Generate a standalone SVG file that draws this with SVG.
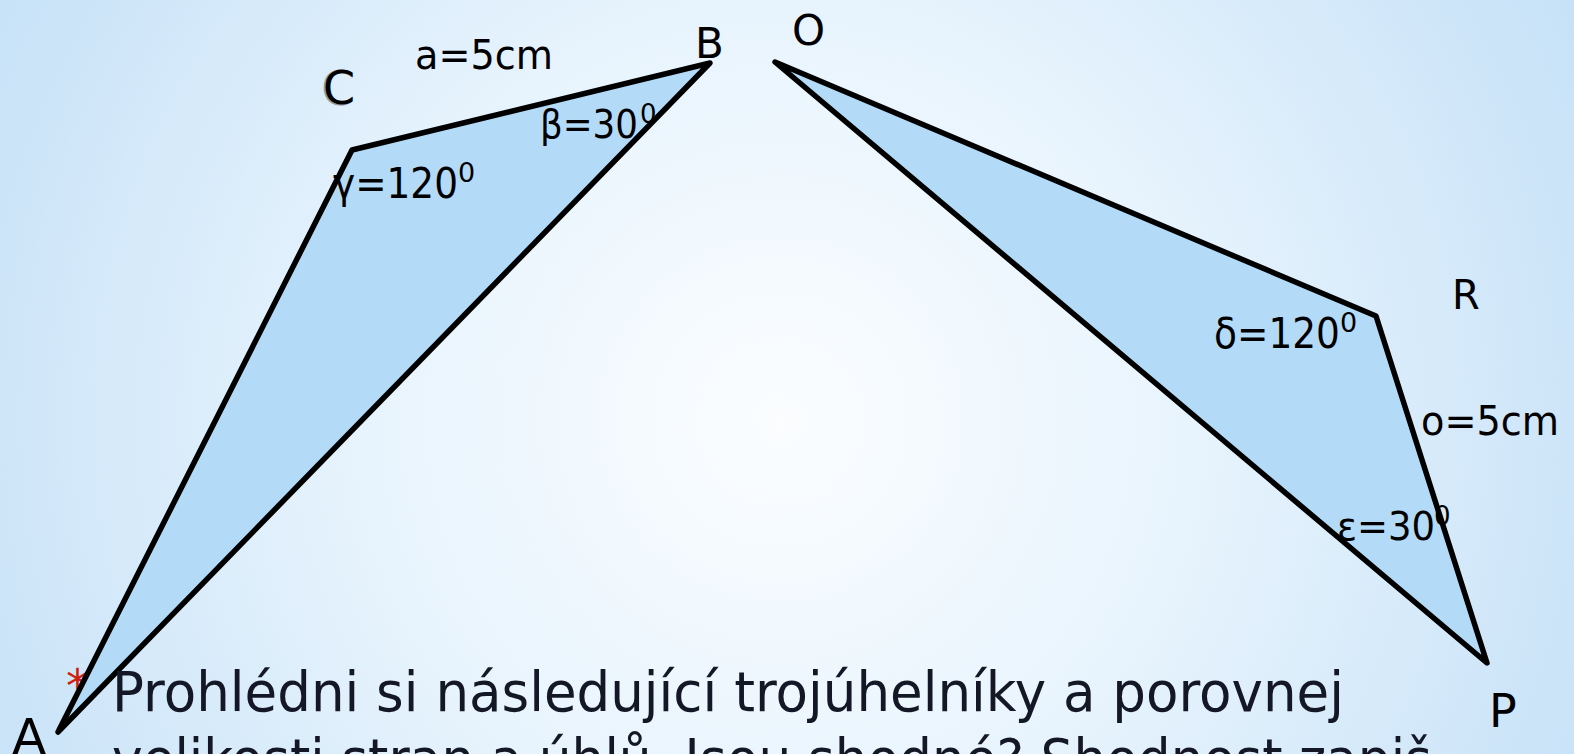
<svg xmlns="http://www.w3.org/2000/svg" width="1574" height="754" viewBox="0 0 1574 754">
<defs>
<radialGradient id="bg" cx="780" cy="420" r="900" gradientUnits="userSpaceOnUse">
<stop offset="0" stop-color="#fbfdff"/>
<stop offset="0.45" stop-color="#e8f4fd"/>
<stop offset="1" stop-color="#c6e1f7"/>
</radialGradient>
<style>
.tri{fill:#b3dbf8;stroke:#000;stroke-width:5.5;stroke-linejoin:round}
.lbl{font-family:"DejaVu Sans",sans-serif;fill:#000}
.main{font-family:"DejaVu Sans",sans-serif;fill:#141726;font-size:55px}
</style>
</defs>
<rect width="1574" height="754" fill="url(#bg)"/>
<text x="66" y="702" font-family="DejaVu Sans,sans-serif" font-size="46" fill="#d02010">*</text>
<g id="connectors"></g>
<g id="triangle-ABC">
<polygon class="tri" points="58,732 352,150 710,63"/>
</g>
<g id="triangle-OPR">
<polygon class="tri" points="775,62 1376,316 1487,663"/>
</g>
<g id="labels">
<text class="lbl" x="321" y="105" font-size="48" fill="#555" opacity="0.35">C</text>
<text class="lbl" x="323" y="104" font-size="46">C</text>
<text class="lbl" x="415" y="69" font-size="40" textLength="138" lengthAdjust="spacingAndGlyphs">a=5cm</text>
<text class="lbl" x="695" y="58" font-size="42">B</text>
<text class="lbl" x="792" y="45" font-size="42">O</text>
<text class="lbl" x="540" y="138" font-size="39" textLength="98" lengthAdjust="spacingAndGlyphs">β=30</text>
<text class="lbl" x="640" y="123" font-size="26">0</text>
<text class="lbl" x="333" y="198" font-size="42" textLength="125" lengthAdjust="spacingAndGlyphs">γ=120</text>
<text class="lbl" x="458" y="182" font-size="27">0</text>
<text class="lbl" x="1214" y="348" font-size="43" textLength="126" lengthAdjust="spacingAndGlyphs">δ=120</text>
<text class="lbl" x="1340" y="332" font-size="27">0</text>
<text class="lbl" x="1452" y="309" font-size="40">R</text>
<text class="lbl" x="1421" y="435" font-size="40" textLength="138" lengthAdjust="spacingAndGlyphs">o=5cm</text>
<text class="lbl" x="1337" y="540" font-size="39" textLength="98" lengthAdjust="spacingAndGlyphs">ε=30</text>
<text class="lbl" x="1434" y="525" font-size="26">0</text>
<text class="lbl" x="1489" y="727" font-size="46">P</text>
<text class="lbl" x="12" y="754" font-size="50">A</text>
</g>
<g id="bullet-text">
<text class="main" x="112" y="711" textLength="1232" lengthAdjust="spacingAndGlyphs">Prohlédni si následující trojúhelníky a porovnej</text>
<text class="main" x="112" y="778" textLength="1320" lengthAdjust="spacingAndGlyphs">velikosti stran a úhlů. Jsou shodné? Shodnost zapiš</text>
</g>
</svg>
